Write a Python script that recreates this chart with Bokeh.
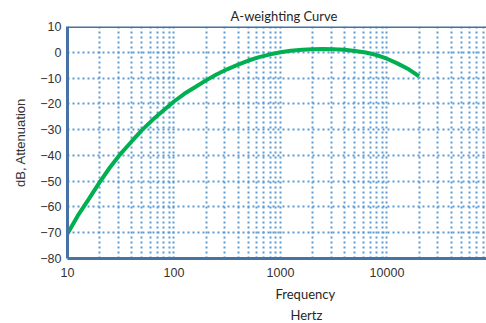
from bokeh.plotting import figure
from bokeh.models import (Range1d, FixedTicker, NumeralTickFormatter, Span, Title)
from bokeh.embed import file_html
from bokeh.resources import INLINE

# data: A-weighting attenuation (dB) at 1/3-octave frequencies
freq_hz = [10, 12.5, 16, 20, 25, 31.5, 40, 50, 63, 80, 100, 125, 160, 200, 250,
           315, 400, 500, 630, 800, 1000, 1250, 1600, 2000, 2500, 3150, 4000,
           5000, 6300, 8000, 10000, 12500, 16000, 20000]
atten_db = [-70.4, -63.4, -56.7, -50.5, -44.7, -39.4, -34.6, -30.2, -26.2, -22.5,
            -19.1, -16.1, -13.4, -10.9, -8.6, -6.6, -4.8, -3.2, -1.9, -0.8, 0.0,
            0.6, 1.0, 1.2, 1.3, 1.2, 1.0, 0.5, -0.1, -1.1, -2.5, -4.3, -6.6, -9.3]
x_ticks = [10, 100, 1000, 10000]
x_minor = [m * 10 ** k for k in range(1, 5) for m in range(2, 10)]
y_ticks = [-80, -70, -60, -50, -40, -30, -20, -10, 0, 10]

BLUE = "#4672a4"
GRID = "#5b9bd5"

p = figure(width=486, height=323, x_axis_type="log",
           x_range=Range1d(10, 86000), y_range=Range1d(-80, 10),
           output_backend="svg", toolbar_location=None,
           min_border_left=67, min_border_right=0, min_border_top=26,
           min_border_bottom=65)
p.outline_line_color = None
p.background_fill_color = "white"

p.line(freq_hz, atten_db, line_color="#00b050", line_width=4)

# axes
p.xaxis.ticker = FixedTicker(ticks=x_ticks, minor_ticks=x_minor)
p.xaxis.formatter = NumeralTickFormatter(format="0")
p.yaxis.ticker = FixedTicker(ticks=y_ticks)
for ax in (p.xaxis[0], p.yaxis[0]):
    ax.axis_line_color = BLUE
    ax.axis_line_width = 3
    ax.major_tick_line_color = None
    ax.minor_tick_line_color = None
    ax.major_tick_out = 0
    ax.major_tick_in = 0
    ax.minor_tick_out = 0
    ax.minor_tick_in = 0
    ax.major_label_text_font = "Liberation Sans"
    ax.major_label_text_font_size = "12.5px"
    ax.major_label_text_color = "#333333"
p.xaxis.major_label_standoff = 9
p.yaxis.major_label_standoff = 6
p.yaxis.axis_label = "dB, Attenuation"
p.yaxis.axis_label_text_font = "Liberation Sans"
p.yaxis.axis_label_text_font_style = "normal"
p.yaxis.axis_label_text_font_size = "13px"
p.yaxis.axis_label_text_color = "#333333"
p.yaxis.axis_label_standoff = 9

# grids
for g in (p.xgrid[0], p.ygrid[0]):
    g.grid_line_color = GRID
    g.grid_line_width = 2
    g.grid_line_dash = "2 3"
p.xgrid.minor_grid_line_color = GRID
p.xgrid.minor_grid_line_width = 2
p.xgrid.minor_grid_line_dash = "2 3"

# top border
p.add_layout(Span(location=10, dimension="width", line_color=BLUE, line_width=3))

# titles
def mk_title(text, offset, standoff, valign="bottom"):
    return Title(text=text, align="left", offset=offset, text_font="Lato",
                 text_font_size="13px", text_font_style="normal",
                 text_color="#262626", standoff=standoff, vertical_align=valign)

p.add_layout(mk_title("A-weighting Curve", 163, 2, "top"), "above")
p.add_layout(mk_title("Frequency", 208, 8), "below")
p.add_layout(mk_title("Hertz", 223, -2), "below")

open("out.html", "w").write(file_html(p, INLINE))
